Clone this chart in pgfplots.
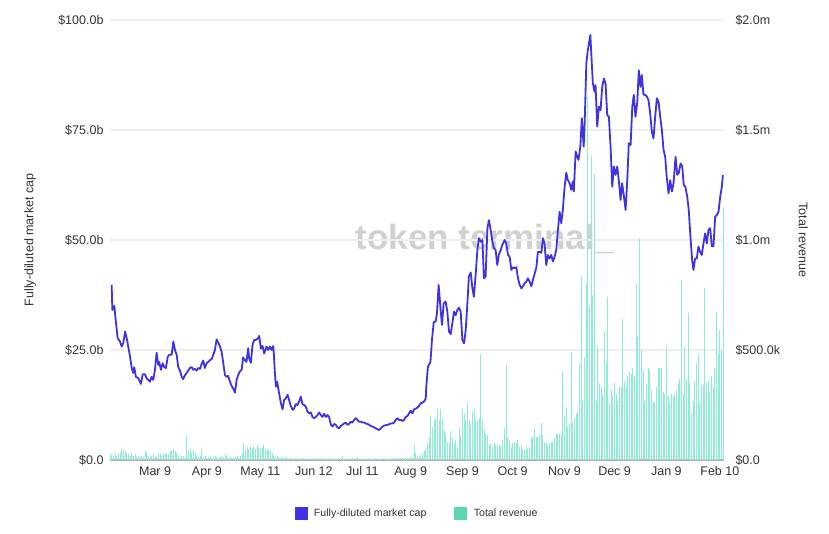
\documentclass[border=0pt]{standalone}
\usepackage{fontspec}
\setmainfont{Liberation Sans}
\usepackage{pgfplots}
\pgfplotsset{compat=1.18}
\definecolor{mc}{RGB}{63,50,228}
\definecolor{rev}{RGB}{138,238,212}
\definecolor{revleg}{RGB}{94,214,180}
\definecolor{gridc}{RGB}{238,238,238}
\definecolor{axc}{RGB}{178,178,178}
\definecolor{txt}{RGB}{51,51,51}
\definecolor{wm}{RGB}{208,208,208}
\begin{document}
\begin{tikzpicture}
\useasboundingbox (0,0) rectangle (829pt,534pt);
\node[anchor=base, text=wm, font=\fontsize{35}{40}\selectfont\bfseries, inner sep=0pt] at (485pt,284pt) {token terminal\_};
\pgfplotsset{common/.style={at={(110pt,74pt)}, anchor=south west, scale only axis, width=614pt, height=440pt, xmin=0, xmax=367.5, major tick length=0pt, tick label style={font=\fontsize{12.5}{14}\selectfont, text=txt}, label style={font=\fontsize{12.5}{14}\selectfont, text=txt}}}
\begin{axis}[common, ymin=0, ymax=2,
  axis y line*=right, axis x line*=bottom,
  x axis line style={draw=axc, line width=1.5pt, -},
  y axis line style={draw=none},
  xtick={27,58,90,122,151,180,211,241,272,302,333,365},
  xticklabels={Mar 9,Apr 9,May 11,Jun 12,Jul 11,Aug 9,Sep 9,Oct 9,Nov 9,Dec 9,Jan 9,Feb 10},
  xticklabel style={yshift=-3pt},
  ytick={0,0.5,1,1.5,2},
  yticklabels={\$0.0,\$500.0k,\$1.0m,\$1.5m,\$2.0m},
  yticklabel style={anchor=west, xshift=8pt},
  ymajorgrids, grid style={draw=gridc, line width=1.3pt},
  ylabel={Total revenue},
  ylabel style={at={(axis description cs:1.129,0.5)}, anchor=center, rotate=180}]
\addplot[ycomb, draw=rev, line width=0.95pt, mark=none] coordinates {
(0,0.02)(1,0.025)(2,0.02)(3,0.03)(4,0.02)(5,0.025)(6,0.03)(7,0.05)(8,0.045)(9,0.04)(10,0.03)(11,0.025)(12,0.02)(13,0.03)(14,0.02)(15,0.025)(16,0.015)(17,0.02)(18,0.015)(19,0.02)(20,0.015)(21,0.04)(22,0.035)(23,0.02)(24,0.015)(25,0.02)(26,0.025)(27,0.02)(28,0.015)(29,0.03)(30,0.025)(31,0.02)(32,0.03)(33,0.025)(34,0.03)(35,0.025)(36,0.04)(37,0.045)(38,0.05)(39,0.04)(40,0.03)(41,0.02)(42,0.015)(43,0.02)(44,0.02)(45,0.015)(46,0.11)(47,0.04)(48,0.05)(49,0.03)(50,0.045)(51,0.03)(52,0.02)(53,0.015)(54,0.02)(55,0.05)(56,0.015)(57,0.02)(58,0.01)(59,0.015)(60,0.02)(61,0.01)(62,0.015)(63,0.02)(64,0.015)(65,0.01)(66,0.015)(67,0.02)(68,0.015)(69,0.025)(70,0.02)(71,0.015)(72,0.01)(73,0.015)(74,0.01)(75,0.015)(76,0.02)(77,0.015)(78,0.02)(79,0.03)(80,0.075)(81,0.05)(82,0.06)(83,0.045)(84,0.065)(85,0.05)(86,0.06)(87,0.05)(88,0.07)(89,0.055)(90,0.05)(91,0.055)(92,0.07)(93,0.05)(94,0.045)(95,0.05)(96,0.04)(97,0.03)(98,0.02)(99,0.015)(100,0.02)(101,0.015)(102,0.01)(103,0.015)(104,0.01)(105,0.012)
(106,0.008)(107,0.006)(108,0.01)(109,0.007)(110,0.005)(111,0.009)(112,0.006)(113,0.008)(114,0.005)(115,0.007)(116,0.01)(117,0.006)(118,0.005)(119,0.008)(120,0.006)(121,0.007)(122,0.005)(123,0.009)(124,0.006)(125,0.005)(126,0.007)(127,0.006)(128,0.008)(129,0.005)(130,0.006)(131,0.007)(132,0.005)(133,0.006)(134,0.008)(135,0.005)(136,0.006)(137,0.007)(138,0.009)(139,0.02)(140,0.006)(141,0.005)(142,0.007)(143,0.006)(144,0.005)(145,0.008)(146,0.006)(147,0.007)(148,0.015)(149,0.006)(150,0.005)(151,0.007)(152,0.006)(153,0.005)(154,0.006)(155,0.008)(156,0.005)(157,0.006)(158,0.005)(159,0.007)(160,0.006)(161,0.005)(162,0.006)(163,0.008)(164,0.006)(165,0.007)(166,0.005)(167,0.006)(168,0.008)(169,0.007)(170,0.006)(171,0.009)(172,0.007)(173,0.008)(174,0.01)(175,0.008)(176,0.009)(177,0.01)(178,0.012)(179,0.01)(180,0.012)(181,0.015)(182,0.07)(183,0.03)(184,0.02)(185,0.015)(186,0.02)(187,0.03)(188,0.04)(189,0.055)
(190,0.076)(191,0.1)(192,0.2)(193,0.15)(194,0.18)(195,0.19)(196,0.23)(197,0.18)(198,0.23)(199,0.19)(200,0.135)(201,0.12)(202,0.08)(203,0.076)(204,0.13)(205,0.1)(206,0.076)(207,0.09)(208,0.06)(209,0.145)(210,0.115)(211,0.23)(212,0.21)(213,0.18)(214,0.26)(215,0.18)(216,0.16)(217,0.22)(218,0.23)(219,0.18)(220,0.18)(221,0.19)(222,0.48)(223,0.18)(224,0.135)(225,0.12)(226,0.115)(227,0.07)(228,0.076)(229,0.06)(230,0.076)(231,0.068)(232,0.068)(233,0.068)(234,0.063)(235,0.09)(236,0.145)(237,0.43)(238,0.1)(239,0.09)(240,0.06)(241,0.076)(242,0.083)(243,0.076)(244,0.09)(245,0.06)(246,0.068)(247,0.05)(248,0.045)(249,0.06)(250,0.05)(251,0.06)(252,0.105)(253,0.1)(254,0.145)(255,0.105)(256,0.105)(257,0.115)(258,0.17)(259,0.115)(260,0.083)(261,0.076)(262,0.068)(263,0.076)(264,0.083)(265,0.083)(266,0.1)(267,0.12)(268,0.12)(269,0.12)(270,0.12)(271,0.4)(272,0.2)(273,0.24)(274,0.15)(275,0.16)(276,0.49)
(277,0.17)(278,0.19)(279,0.21)(280,0.22)(281,0.44)(282,0.83)(283,0.27)(284,0.47)(285,0.80)(286,1.65)(287,0.7)(288,1.38)(289,0.75)(290,1.3)(291,0.27)(292,0.52)(293,0.35)(294,0.33)(295,0.3)(296,0.58)(297,0.44)(298,0.74)(299,0.26)(300,0.32)(301,0.29)(302,0.35)(303,0.3)(304,0.27)(305,0.33)(306,0.33)(307,0.64)(308,0.36)(309,0.33)(310,0.38)(311,0.40)(312,0.39)(313,0.42)(314,0.38)(315,0.8)(316,0.56)(317,1.01)(318,0.5)(319,0.41)(320,0.27)(321,0.35)(322,0.42)(323,0.41)(324,0.32)(325,0.27)(326,0.26)(327,0.33)(328,0.42)(329,0.42)(330,0.42)(331,0.31)(332,0.30)(333,0.52)(334,0.29)(335,0.26)(336,0.30)(337,0.29)(338,0.30)(339,0.32)(340,0.35)(341,0.37)(342,0.82)(343,0.30)(344,0.52)(345,0.37)(346,0.67)(347,0.35)(348,0.21)(349,0.27)(350,0.36)(351,0.44)(352,0.48)(353,0.26)(354,0.34)(355,0.34)(356,0.78)(357,0.35)(358,0.36)(359,0.31)(360,0.38)(361,0.33)(362,0.42)(363,0.67)(364,0.48)(365,0.59)(366,0.5)(367,1.15)
};
\end{axis}
\begin{axis}[common, ymin=0, ymax=100,
  hide x axis, axis y line*=left, y axis line style={draw=none},
  ytick={0,25,50,75,100},
  yticklabels={\$0.0,\$25.0b,\$50.0b,\$75.0b,\$100.0b},
  yticklabel style={anchor=east, xshift=-3pt},
  ylabel={Fully-diluted market cap},
  ylabel style={at={(axis description cs:-0.130,0.5)}, anchor=center},
  legend style={at={(axis description cs:0.5,-0.1205)}, anchor=center, draw=none, fill=none, legend columns=2, font=\fontsize{10.6}{12}\selectfont, text=txt, /tikz/every odd column/.append style={column sep=5pt}, /tikz/every even column/.append style={column sep=26pt}}]
\addlegendimage{legend image code/.code={\fill[mc] (0pt,-6pt) rectangle (12pt,6pt);}}
\addlegendentry{Fully-diluted market cap}
\addlegendimage{legend image code/.code={\fill[revleg] (0pt,-6pt) rectangle (12pt,6pt);}}
\addlegendentry{Total revenue}
\addplot[mc, line width=1.8pt, line join=round, forget plot] coordinates {
(1.0,39.8)(1.4,34.1)(2.6,35)(3.4,31.8)(4.6,27.7)(6.0,26.9)(7.0,25.8)(8.0,26.6)(9.0,29.2)(10.0,27.7)(10.9,25.8)(12.0,23.5)(13.0,20.9)(13.9,19.8)(14.5,21.1)(15.5,18.9)(16.9,18.6)(18.5,17.3)(19.6,19.5)(20.9,19.5)(21.9,18.6)(22.9,18.2)(23.9,17.8)(24.9,18.9)(25.9,18.2)(26.9,20.5)(27.9,24.4)(28.9,21.6)(29.4,22.3)(30.5,20.5)(31.5,22)(32.5,21.1)(33.5,20.9)(34.5,23.4)(35.5,23.9)(36.9,23.9)(37.9,26.9)(38.9,25)(39.9,23.9)(40.8,21.2)(41.9,20.3)(42.9,18.9)(43.8,18.4)(44.9,19.3)(45.9,19.8)(46.8,20.3)(47.8,20.9)(48.9,21.1)(49.8,20.5)(50.8,20.7)(51.8,20.3)(52.8,20.9)(53.8,20.7)(54.8,21.8)(55.8,22.6)(56.8,20.9)(57.8,22)(58.8,22.3)(59.8,22.7)(60.8,22.9)(61.8,23.9)(62.8,25)(63.8,27.4)(64.8,26.7)(65.8,25.8)(66.8,24.6)(67.7,22.3)(68.8,19.3)(69.8,18.9)(70.7,19.1)(71.8,17.8)(72.8,16.8)(73.7,16.3)(74.8,15.3)(75.8,18.2)(76.7,19.3)(77.7,20.1)(78.8,20.5)(79.7,23.3)(80.7,22.7)(81.7,22.3)(82.7,25.4)(83.3,23.1)(84.3,22.1)(85.3,26.1)(86.3,27.3)(87.3,27.3)(88.7,27.7)(89.3,28.2)(90.3,25.3)(91.3,25.9)(92.3,24.2)(93.7,25.8)(94.7,25)(95.7,25.8)(96.7,25)(97.7,25.9)(98.1,23.9)(98.7,19.7)(99.3,16.7)(100.0,17.8)(101.2,15.2)(102.3,12.9)(103.3,11.5)(104.2,13.6)(105.2,14)(106.3,14.8)(107.2,13.6)(108.2,12.3)(109.3,11.4)(110.2,11.7)(111.2,12.7)(112.2,12.5)(113.2,13.3)(114.2,14.4)(115.2,12.7)(116.2,12.5)(117.2,12.1)(118.2,11)(119.2,10.6)(120.2,10.8)(121.2,9.8)(122.2,9.5)(123.2,9.8)(124.2,10.2)(125.2,10.8)(126.2,10.2)(127.2,9.8)(128.1,10.5)(129.2,9.8)(130.2,10.2)(131.1,9.8)(132.2,8)(133.2,7.6)(134.1,8.2)(135.1,8)(136.2,7.4)(137.1,7.2)(138.1,7.7)(139.1,8)(140.1,8.3)(141.1,8.5)(142.1,8)(143.1,8.2)(144.1,8.7)(145.1,8.5)(146.1,9.1)(147.1,9.5)(148.1,9.1)(149.1,8.7)(150.1,8.7)(151.1,8.5)(152.1,8.5)(153.1,8.3)(154.1,8.2)(155.1,8)(156.1,7.7)(157.1,7.6)(158.1,7.4)(159.1,7.2)(160.1,7)(161.0,6.8)(162.1,7.2)(163.1,7.6)(164.0,7.8)(165.0,7.9)(166.1,8)(167.0,8.1)(168.0,8.3)(169.1,8.3)(170.0,8.5)(171.0,9.1)(172.0,9.5)(173.0,9.1)(174.0,9.1)(175.0,8.9)(176.0,9.1)(177.0,9.8)(178.0,10)(179.0,10.6)(180.0,11.2)(181.0,10.6)(182.0,11.5)(183.0,11.7)(184.0,11.9)(185.0,12.3)(186.0,12.9)(187.0,13)(188.0,13.3)(189.0,14)(189.3,16.7)(190.3,21.2)(191.8,22.3)(192.7,27.3)(193.8,31.4)(194.9,31.4)(195.7,33.3)(196.7,39.8)(197.8,34.5)(198.7,30.7)
(199.7,35.6)(200.9,36)(201.9,33.7)(202.9,29.2)(203.9,28.6)(204.9,31.1)(205.9,33.7)(206.9,32.9)(207.9,34.1)(208.9,34.6)(209.9,33.7)(210.9,27.3)(211.9,26.5)(212.9,29.5)(213.9,35.6)(214.8,41.7)(215.9,42.6)(216.9,39)(217.8,37.1)(218.9,42.4)(219.9,47.7)(220.8,50.4)(221.9,49.6)(222.9,50)(223.8,41.3)(224.8,41.7)(225.9,52.7)(226.8,54.5)(227.8,52.3)(228.9,49.6)(229.8,48.1)(230.8,47.7)(231.8,44.3)(232.7,46.6)(233.8,47.7)(234.8,48.9)(236.2,50)(237.2,49.2)(238.2,46.6)(239.2,46.2)(240.2,43.2)(241.2,43.8)(242.2,43.6)(243.2,43.8)(244.2,41.3)(245.2,39.8)(246.2,39)(247.2,39.5)(248.2,40.2)(249.2,40.5)(250.1,41.3)(251.2,40.5)(252.2,39.5)(253.1,40.9)(254.2,42.4)(255.2,43.8)(256.1,47.3)(257.1,47.3)(258.2,47.1)(259.1,50.4)(260.1,49.2)(261.1,44.3)(262.1,46.6)(263.1,45.8)(264.1,46.6)(265.1,45.1)(266.1,46.2)(267.1,47.7)(268.1,52.3)(269.1,56.4)(270.1,53.8)(271.1,57.2)(272.1,62.1)(273.1,65.3)(274.0,63.6)(275.1,62.9)(276.1,61.4)(277.0,63.3)(277.6,61)(278.7,70.1)(279.7,68.9)(280.4,68.2)(281.5,71.2)(282.4,77.7)(283.5,71.2)(284.1,76.5)(285.1,90.2)(286.0,93.2)(287.5,96.6)(288.0,92.8)(289.0,85.6)(290.0,83.7)(290.6,85.2)(291.6,75.8)(292.6,80.3)(293.6,79.5)(294.6,84.8)(295.6,86.7)(296.6,85.6)(297.6,78.4)(298.6,78)(299.6,71.2)(300.6,62.1)(301.6,66.7)(302.6,64.8)(303.6,66.7)(304.6,63.3)(305.6,59.1)(306.5,62.9)(307.5,60.2)(308.6,56.8)(309.6,63.6)(310.5,72)(311.6,71.6)(312.6,80.3)(313.5,83)(314.5,78)(315.6,81.4)(316.5,88.6)(317.5,84.8)(318.3,87.5)(319.3,83)(320.3,83)(321.3,82.6)(322.3,81.8)(323.3,78.8)(324.3,74.6)(325.3,73.1)(326.3,78)(327.3,82.2)(328.3,81.4)(329.3,78)(330.3,75)(331.3,70.5)(332.3,68.9)(333.2,64.4)(334.3,60.6)(335.3,63.6)(336.3,61)(337.3,62.9)(338.5,68.9)(339.5,64.8)(340.4,65.2)(341.5,67.4)(342.5,66.7)(343.4,62.5)(344.4,62.1)(345.5,59.8)(346.4,56.8)(347.4,50.8)(348.4,45.5)(349.2,43.2)(350.2,45.8)(351.2,45.8)(352.2,48.5)(353.2,47.3)(354.2,46.6)(355.2,49.2)(356.2,51.5)(357.2,49.2)(358.2,52.3)(359.2,52.7)(360.2,48.6)(361.2,48.6)(362.2,55.3)(363.2,55.7)(364.2,56.4)(365.2,59.8)(366.2,62.1)(366.8,64.8)
};
\end{axis}
\end{tikzpicture}
\end{document}
